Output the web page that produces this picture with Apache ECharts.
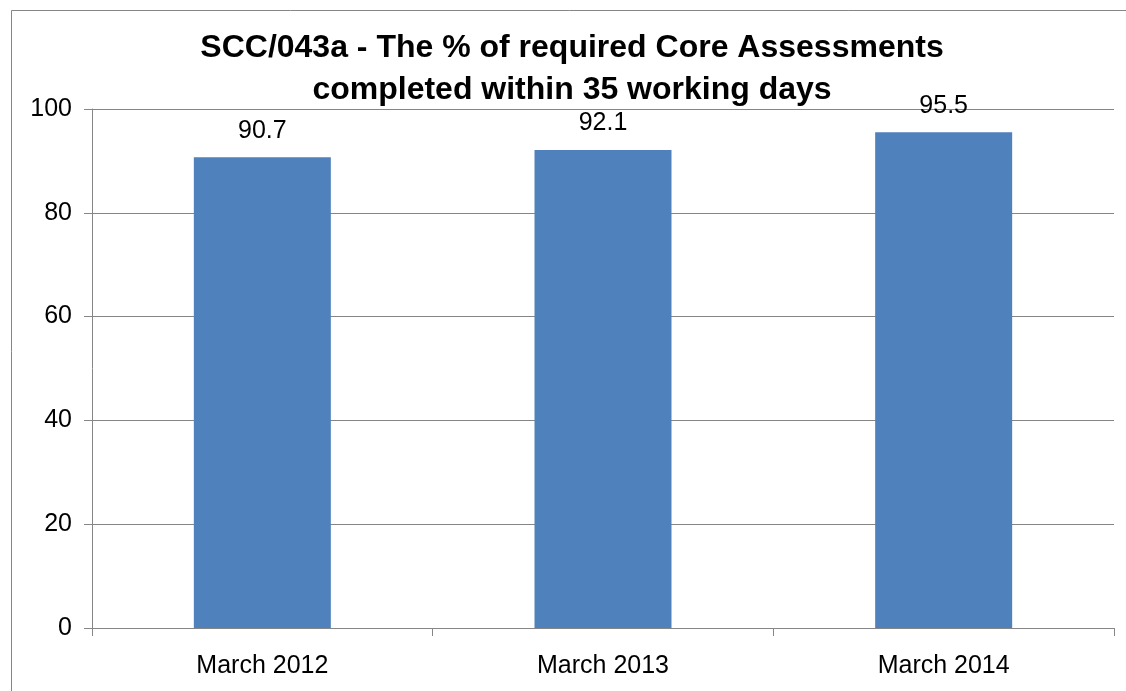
<!DOCTYPE html>
<html><head><meta charset="utf-8">
<script src="https://cdn.jsdelivr.net/npm/echarts@6/dist/echarts.min.js"></script>
<style>html,body{margin:0;padding:0;background:#fff}#c{width:1126px;height:691px}</style>
</head><body><div id="c"></div>
<script>
const titleText = "SCC/043a - The % of required Core Assessments\ncompleted within 35 working days";
const categories = ["March 2012", "March 2013", "March 2014"];
const values = [90.7, 92.1, 95.5];
const yTicks = { min: 0, max: 100, interval: 20 };

const chart = echarts.init(document.getElementById('c'), null, { renderer: 'canvas' });
chart.setOption({
  backgroundColor: '#fff',
  animation: false,
  graphic: [{
    type: 'rect', left: 9, top: 8,
    shape: { width: 1200, height: 800 },
    style: { fill: 'none', stroke: '#868686', lineWidth: 1 }
  }],
  title: {
    text: titleText,
    left: 567, top: 22, textAlign: 'center',
    textStyle: { fontFamily: 'Liberation Sans, Arial', fontWeight: 'bold', fontSize: 32, lineHeight: 42, color: '#000' }
  },
  grid: { left: 92, right: 12, top: 109, bottom: 63 },
  xAxis: {
    type: 'category', data: categories,
    axisLine: { lineStyle: { color: '#868686' } },
    axisTick: { show: true, length: 8, lineStyle: { color: '#868686' } },
    axisLabel: { fontFamily: 'Liberation Sans, Arial', fontSize: 25, color: '#000', margin: 26 }
  },
  yAxis: {
    type: 'value', min: yTicks.min, max: yTicks.max, interval: yTicks.interval,
    axisLine: { show: true, lineStyle: { color: '#868686' } },
    axisTick: { show: true, length: 8, lineStyle: { color: '#868686' } },
    splitLine: { lineStyle: { color: '#868686' } },
    axisLabel: { fontFamily: 'Liberation Sans, Arial', fontSize: 25, color: '#000', margin: 20 }
  },
  series: [{
    type: 'bar', data: values, barWidth: 137,
    itemStyle: { color: '#4F81BD' },
    label: { show: true, position: 'top', distance: 14, fontFamily: 'Liberation Sans, Arial', fontSize: 25, color: '#000' }
  }]
});
</script></body></html>
